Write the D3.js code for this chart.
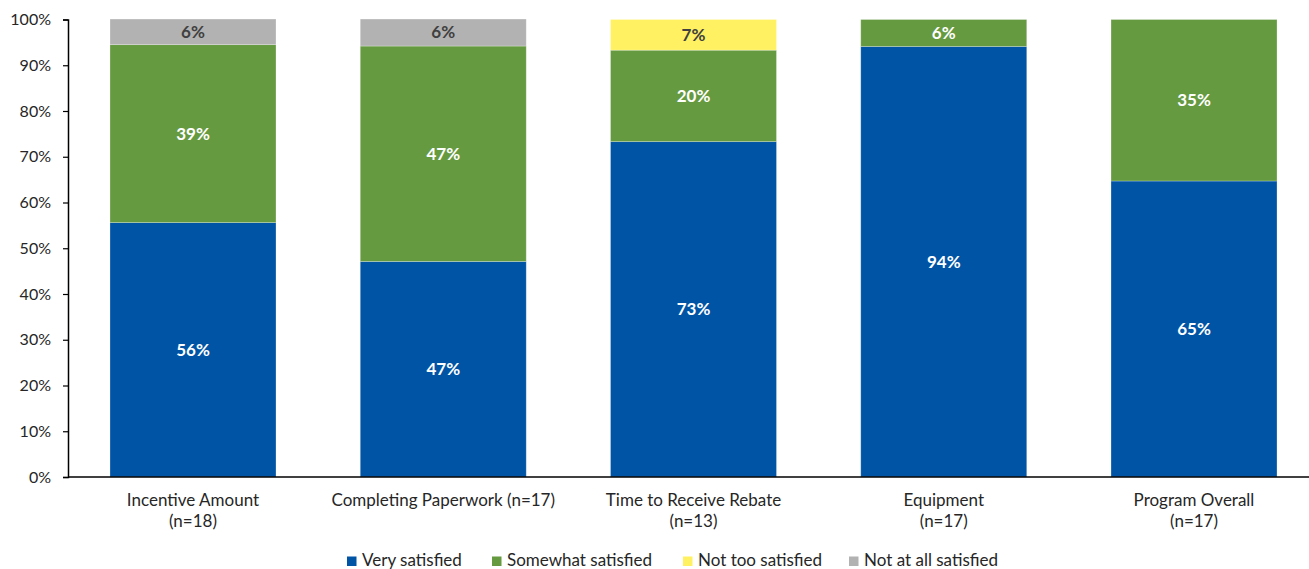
<!DOCTYPE html>
<html>
<head>
<meta charset="utf-8">
<script src="https://cdn.jsdelivr.net/npm/d3@7/dist/d3.min.js"></script>
<style>
  html, body { margin: 0; padding: 0; background: #fff; }
  svg { display: block; font-family: Lato, "Open Sans", sans-serif; }
</style>
</head>
<body>
<svg id="chart" width="1309" height="569"></svg>
<script>
// Satisfaction shares by program aspect (percent of respondents)
const categories = [
  ["Incentive Amount", "(n=18)"],
  ["Completing Paperwork (n=17)"],
  ["Time to Receive Rebate", "(n=13)"],
  ["Equipment", "(n=17)"],
  ["Program Overall", "(n=17)"]
];
const seriesNames = ["Very satisfied", "Somewhat satisfied", "Not too satisfied", "Not at all satisfied"];
const verySatisfied      = [55.6, 47.1, 73.3, 94.1, 64.7];
const somewhatSatisfied  = [38.9, 47.1, 20.0, 5.9, 35.3];
const notTooSatisfied    = [0, 0, 6.7, 0, 0];
const notAtAllSatisfied  = [5.6, 5.9, 0, 0, 0];
const yTicks = [0, 10, 20, 30, 40, 50, 60, 70, 80, 90, 100];

const colors = ["#0054A6", "#669A40", "#FFF161", "#B2B2B2"];
const labelColors = ["#ffffff", "#ffffff", "#404040", "#404040"];

const svg = d3.select("#chart");
const W = 1309, H = 569;
const plotLeft = 68, plotRight = 1319, plotTop = 19.5, plotBottom = 477;

const x = d3.scaleBand()
  .domain(d3.range(categories.length))
  .range([plotLeft, plotRight])
  .paddingInner(0.3367)
  .paddingOuter(0.1678);

const y = d3.scaleLinear().domain([0, 100]).range([plotBottom, plotTop]);

const rows = categories.map((c, i) => ({
  i,
  s0: verySatisfied[i], s1: somewhatSatisfied[i], s2: notTooSatisfied[i], s3: notAtAllSatisfied[i]
}));
const stack = d3.stack().keys(["s0", "s1", "s2", "s3"]);
const layers = stack(rows);

const g = svg.append("g");
layers.forEach((layer, k) => {
  const lg = g.append("g");
  const segs = layer.filter(d => d[1] - d[0] > 0);
  lg.selectAll("rect")
    .data(segs)
    .join("rect")
    .attr("x", d => x(d.data.i))
    .attr("width", x.bandwidth())
    .attr("y", d => y(d[1]))
    .attr("height", d => y(d[0]) - y(d[1]))
    .attr("fill", colors[k])
    .attr("stroke", "#ffffff")
    .attr("stroke-opacity", 0.35)
    .attr("stroke-width", 0.75);
  lg.selectAll("text")
    .data(segs)
    .join("text")
    .attr("x", d => x(d.data.i) + x.bandwidth() / 2)
    .attr("y", d => y((d[0] + d[1]) / 2))
    .attr("dy", "0.35em")
    .attr("text-anchor", "middle")
    .attr("fill", labelColors[k])
    .attr("font-size", 17)
    .attr("font-weight", "bold")
    .text(d => Math.round(d[1] - d[0]) + "%");
});

// Y axis
const yAxis = d3.axisLeft(y).tickValues(yTicks).tickSize(5).tickFormat(d => d + "%");
const ya = svg.append("g").attr("transform", `translate(${plotLeft},0)`).call(yAxis);
ya.select(".domain").attr("stroke", "#000").attr("stroke-width", 1.5);
ya.selectAll(".tick line").attr("stroke", "#000").attr("stroke-width", 1.2);
ya.selectAll(".tick text").attr("font-size", 16).attr("fill", "#262626")
  .attr("font-family", "Lato, sans-serif").attr("x", -17);

// X baseline
svg.append("line")
  .attr("x1", plotLeft).attr("x2", W)
  .attr("y1", y(0)).attr("y2", y(0))
  .attr("stroke", "#000").attr("stroke-width", 1.5);

// Category labels
const cl = svg.append("g");
categories.forEach((lines, i) => {
  const cx = x(i) + x.bandwidth() / 2;
  const t = cl.append("text")
    .attr("x", cx)
    .attr("y", 506)
    .attr("text-anchor", "middle")
    .attr("font-size", 17)
    .attr("fill", "#262626");
  lines.forEach((ln, j) => {
    t.append("tspan").attr("x", cx).attr("dy", j === 0 ? 0 : 21).text(ln);
  });
});

// Legend
const legendX = [347, 492, 683, 849];
const lgd = svg.append("g");
seriesNames.forEach((name, k) => {
  lgd.append("rect").attr("x", legendX[k]).attr("y", 556.5).attr("width", 9.5).attr("height", 9.5).attr("fill", colors[k]);
  lgd.append("text").attr("x", legendX[k] + 15).attr("y", 566)
    .attr("font-size", 17).attr("fill", "#262626").text(name);
});
</script>
</body>
</html>
